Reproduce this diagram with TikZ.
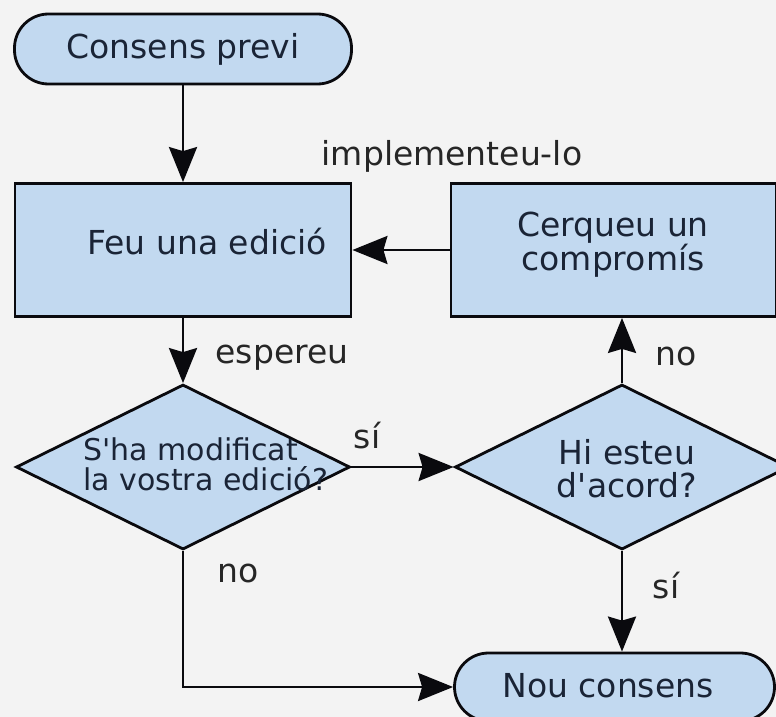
\documentclass[tikz,border=0pt]{standalone}
\usepackage{fontspec}
\newfontfamily\fcfont{DejaVu Sans}
\usetikzlibrary{positioning, arrows.meta, shapes.geometric}
\definecolor{FCfill}{RGB}{194, 217, 240}
\definecolor{FCink}{RGB}{26, 36, 54}
\definecolor{FCedge}{RGB}{10, 10, 14}
\definecolor{FCpaper}{RGB}{243, 243, 243}
\tikzset{
  box/.style={rectangle, draw=FCedge, fill=FCfill, line width=2.8pt, text=FCink,
    align=center, inner sep=0pt, font=\fcfont\fontsize{33}{31}\selectfont},
  term/.style={box, rounded corners=34pt, minimum width=337pt, minimum height=70pt},
  proc/.style={box, minimum width=336pt, minimum height=133pt},
  decide/.style={diamond, draw=FCedge, fill=FCfill, line width=2.8pt, inner sep=0pt,
    minimum width=334pt, minimum height=165pt},
  intext/.style={text=FCink, inner sep=0pt, font=\fcfont\fontsize{33}{33}\selectfont},
  lbl/.style={text=black!85, inner sep=0pt, font=\fcfont\fontsize{33}{33}\selectfont},
  flow/.style={-{Stealth[length=35pt, width=28pt, inset=4pt]}, line width=2.8pt, FCedge},
}

\begin{document}
\begin{tikzpicture}[x=1pt, y=-1pt]
  \fill[FCpaper] (0,0) rectangle (776,717);
  \useasboundingbox (0,0) rectangle (776,717);

  \node[term] (prev) at (183,49) {Consens previ};
  \node[proc] (feu) at (183,250) {};
  \node[intext] (feutxt) at (207,242) {Feu una edició};
  \node[proc, minimum width=325pt] (cerq) at (613.5,250) {};
  \node[intext, font=\fcfont\fontsize{33}{31}\selectfont, align=center] (cerqtxt)
    at (613,245) {Cerqueu un\\compromís};
  \node[decide] (mod) at (183,467) {};
  \node[intext, font=\fcfont\fontsize{30}{30}\selectfont, align=left, anchor=west] (modtxt)
    at (83,464) {S'ha modificat\\la vostra edició?};
  \node[decide] (agree) at (622,467) {};
  \node[intext, align=center] (agreetxt) at (627,469) {Hi esteu\\d'acord?};
  \node[term, minimum width=320pt, minimum height=68pt] (nou) at (614.5,687) {};
  \node[intext] (noutxt) at (608,686) {Nou consens};

  \draw[flow] (prev) -- (feu);
  \draw[flow] (cerq) -- (feu);
  \draw[flow] (feu) -- (mod);
  \draw[flow] (mod) -- (agree);
  \draw[flow] (agree.north) -- (agree.north |- cerq.south);
  \draw[flow] (agree.south) -- (agree.south |- nou.north);
  \draw[flow] (mod.south) |- (nou.west);

  \node[lbl] (implbl) at (452,156) {implementeu-lo};
  \node[lbl] (waitlbl) at (282,358) {espereu};
  \node[lbl] (nolbl) at (676,356) {no};
  \node[lbl] (yeslbl) at (367,436) {sí};
  \node[lbl] (nolbl2) at (238,573) {no};
  \node[lbl] (yeslbl2) at (666,586) {sí};
\end{tikzpicture}
\end{document}
